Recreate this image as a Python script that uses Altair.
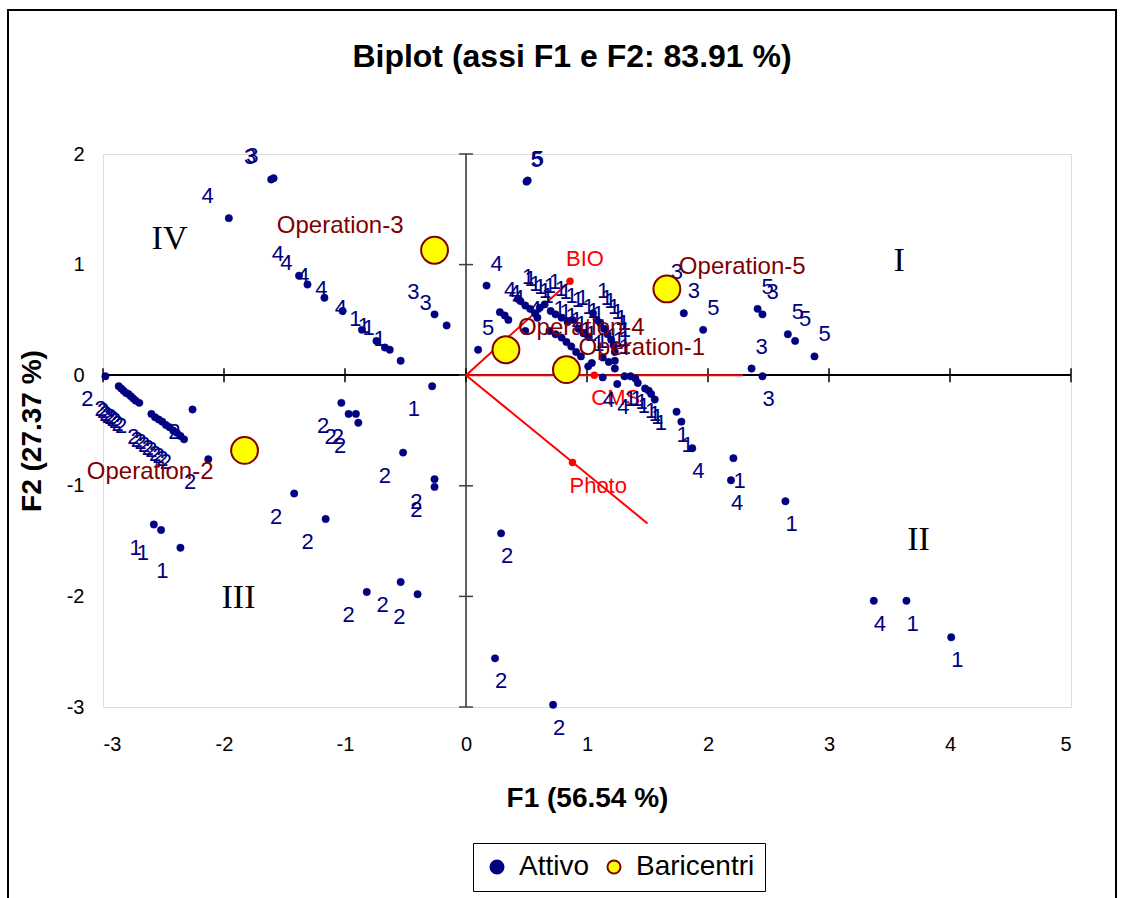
import altair as alt
import pandas as pd

# ---------------- data ----------------
att_f1 = [-1.61, -1.59, -1.96, -1.38, -1.31, -1.17, -1.02, -0.86, -0.74, -0.67, -0.63, -0.54, -0.26, -0.16,
          0.50, 0.51, 0.17, 0.10, 0.28, 0.32, 0.35,
          0.43, 0.45, 0.49, 0.53, 0.57, 0.61, 0.65, 0.70, 0.74, 0.79, 0.84, 0.88, 0.93, 0.97, 1.01,
          1.05, 1.08, 1.11, 1.14, 1.17, 1.20, 1.22, 1.23, 1.23, 1.23,
          0.49, 0.59, 0.69, 0.74, 0.79, 0.83, 0.87, 0.91, 0.95, 1.01, 1.04, 1.13, 1.18,
          1.66, 1.80, 1.96, 2.41, 2.45, 2.66, 2.72, 2.88, 2.36,
          2.45, 1.13, 1.25, 1.31, 1.36, 1.40, 1.42, 1.48, 1.51, 1.53, 1.56, 1.74, 1.78, 1.87,
          2.21, 2.19, 2.64, 3.37, 3.64, 4.01, 0.29, 0.24, 0.72,
          -2.98, -2.87, -2.85, -2.83, -2.81, -2.79, -2.77, -2.75, -2.73, -2.70,
          -2.60, -2.57, -2.54, -2.51, -2.48, -2.45, -2.42, -2.39, -2.36, -2.33,
          -2.26, -2.13, -2.58, -2.52, -2.36, -1.42, -1.16,
          -1.03, -0.97, -0.91, -0.89, -0.52, -0.28, -0.26, -0.26, -0.82, -0.54, -0.40]
att_f2 = [1.77, 1.78, 1.42, 0.90, 0.82, 0.70, 0.58, 0.41, 0.31, 0.25, 0.23, 0.13, 0.55, 0.45,
          1.75, 1.76, 0.81, 0.23, 0.57, 0.54, 0.50,
          0.69, 0.67, 0.63, 0.60, 0.56, 0.61, 0.64, 0.58, 0.55, 0.52, 0.48, 0.50, 0.42, 0.38, 0.35,
          0.56, 0.50, 0.47, 0.42, 0.37, 0.32, 0.27, 0.21, 0.13, 0.06,
          0.40, 0.52, 0.40, 0.37, 0.34, 0.30, 0.26, 0.21, 0.17, 0.08, 0.11, 0.16, 0.12,
          0.73, 0.56, 0.41, 0.60, 0.55, 0.37, 0.31, 0.17, 0.06,
          -0.01, -0.02, -0.08, -0.01, -0.01, -0.03, -0.07, -0.12, -0.14, -0.17, -0.22, -0.33, -0.42, -0.66,
          -0.75, -0.95, -1.14, -2.04, -2.04, -2.37, -1.43, -2.56, -2.98,
          -0.01, -0.10, -0.12, -0.14, -0.16, -0.17, -0.19, -0.21, -0.23, -0.25,
          -0.35, -0.38, -0.40, -0.42, -0.45, -0.47, -0.50, -0.52, -0.55, -0.58,
          -0.31, -0.76, -1.35, -1.40, -1.56, -1.07, -1.30,
          -0.25, -0.35, -0.35, -0.43, -0.70, -0.10, -0.94, -1.01, -1.96, -1.87, -1.98]
att_op = [3, 3, 4, 4, 4, 4, 4, 4, 1, 1, 1, 1, 3, 3,
          5, 5, 4, 5, 4, 4, 4,
          1, 1, 1, 1, 1, 1, 1, 1, 1, 1, 1, 1, 1, 1, 1,
          1, 1, 1, 1, 1, 1, 1, 1, 1, 1,
          4, 1, 1, 1, 1, 1, 1, 1, 1, 1, 1, 1, 1,
          3, 3, 5, 5, 3, 5, 5, 5, 3,
          3, 4, 4, 1, 1, 1, 1, 1, 1, 1, 1, 1, 1, 4,
          1, 4, 1, 4, 1, 1, 2, 2, 2,
          2, 2, 2, 2, 2, 2, 2, 2, 2, 2,
          2, 2, 2, 2, 2, 2, 2, 2, 2, 2,
          2, 2, 1, 1, 1, 2, 2,
          2, 2, 2, 2, 2, 1, 2, 2, 2, 2, 2]

bar_names = ["Operation-1", "Operation-2", "Operation-3", "Operation-4", "Operation-5"]
bar_f1 = [0.83, -1.83, -0.26, 0.33, 1.66]
bar_f2 = [0.05, -0.68, 1.13, 0.23, 0.78]

var_names = ["BIO", "CMS", "Photo"]
var_f1 = [0.86, 1.06, 0.88]
var_f2 = [0.85, 0.00, -0.79]
var_end_f1 = [0.86, 2.29, 1.50]
var_end_f2 = [0.85, 0.00, -1.34]

quad_names = ["I", "II", "III", "IV"]
quad_f1 = [3.58, 3.74, -1.88, -2.45]
quad_f2 = [1.03, -1.49, -2.01, 1.23]

x_ticks = [-3, -2, -1, 0, 1, 2, 3, 4, 5]
y_ticks = [-3, -2, -1, 0, 1, 2]

# ---------------- tables ----------------
att = pd.DataFrame({"f1": att_f1, "f2": att_f2, "op": [str(v) for v in att_op],
                    "series": ["Attivo"] * len(att_f1)})
bar = pd.DataFrame({"f1": bar_f1, "f2": bar_f2, "name": bar_names,
                    "series": ["Baricentri"] * len(bar_f1)})
var = pd.DataFrame({"f1": var_f1, "f2": var_f2, "name": var_names,
                    "e1": var_end_f1, "e2": var_end_f2,
                    "o1": [0.0] * len(var_f1), "o2": [0.0] * len(var_f1)})
quad = pd.DataFrame({"f1": quad_f1, "f2": quad_f2, "name": quad_names})
xt = pd.DataFrame({"f1": x_ticks})
yt = pd.DataFrame({"f2": y_ticks})

FONT = "Liberation Sans"
xs = alt.Scale(domain=[-3, 5], nice=False, zero=False)
ys = alt.Scale(domain=[-3, 2], nice=False, zero=False)
x_axis = alt.Axis(values=x_ticks, ticks=False, domain=False, grid=False, labelExpr="datum.value + ''",
                  labelFont=FONT, labelFontSize=20, labelColor="black", labelPadding=27,
                  title="F1 (56.54 %)", titleFont=FONT, titleFontSize=28, titleFontWeight="bold",
                  titleColor="black", titleY=91, titleBaseline="middle")
y_axis = alt.Axis(values=y_ticks, ticks=False, domain=False, grid=False, labelExpr="datum.value + ''",
                  labelFont=FONT, labelFontSize=20, labelColor="black", labelPadding=19,
                  title="F2 (27.37 %)", titleFont=FONT, titleFontSize=28, titleFontWeight="bold",
                  titleColor="black", titleX=-71, titleBaseline="middle", titleAngle=-90)


def X(field="f1"):
    return alt.X(field + ":Q", scale=xs, axis=x_axis)


def Y(field="f2"):
    return alt.Y(field + ":Q", scale=ys, axis=y_axis)


Q1 = "datum.f1 > 0 && datum.f2 >= 0"
Q2 = "datum.f1 > 0 && datum.f2 < 0"
Q3 = "datum.f1 <= 0 && datum.f2 < 0"
Q4 = "datum.f1 <= 0 && datum.f2 >= 0"

# zero axes
hline = alt.Chart(xt).mark_rule(color="black", strokeWidth=1.5).encode(y=alt.Y(datum=0, scale=ys, axis=y_axis))
vline = alt.Chart(xt).mark_rule(color="#606060", strokeWidth=1.5).encode(x=alt.X(datum=0, scale=xs, axis=x_axis))
xtick = alt.Chart(xt).mark_tick(orient="vertical", size=14, thickness=1.5, color="black", opacity=1).encode(
    x=X(), y=alt.Y(datum=0, scale=ys, axis=y_axis))
ytick = alt.Chart(yt).mark_tick(orient="horizontal", size=14, thickness=1.5, color="#404040", opacity=1).encode(
    y=Y(), x=alt.X(datum=0, scale=xs, axis=x_axis))

# variable vectors
vlines = alt.Chart(var).mark_rule(color="#FF0000", strokeWidth=2).encode(
    x=X("o1"), y=Y("o2"), x2="e1:Q", y2="e2:Q")
vpts = alt.Chart(var).mark_circle(color="#FF0000", size=55, opacity=1).encode(x=X(), y=Y())

legend = alt.Legend(title=None, orient="none", legendX=370, legendY=689, direction="horizontal",
                    strokeColor="black", padding=10, labelFont=FONT, labelFontSize=28,
                    labelColor="black", symbolType="circle", symbolSize=170, symbolStrokeWidth=2,
                    columnPadding=10, labelOffset=8)
fill_enc = alt.Fill("series:N", scale=alt.Scale(domain=["Attivo", "Baricentri"], range=["#000080", "#FFFF00"]),
                    legend=legend)
stroke_enc = alt.Stroke("series:N", scale=alt.Scale(domain=["Attivo", "Baricentri"], range=["#000080", "#800000"]),
                        legend=legend)

pts = alt.Chart(att).mark_circle(size=55, opacity=1, strokeWidth=0.5).encode(
    x=X(), y=Y(), fill=fill_enc, stroke=stroke_enc)
bars = alt.Chart(bar).mark_circle(size=720, opacity=1, strokeWidth=2).encode(
    x=X(), y=Y(), fill=fill_enc, stroke=stroke_enc)


def att_labels(expr, align, dx, dy):
    return alt.Chart(att).transform_filter(expr).mark_text(
        align=align, baseline="middle", dx=dx, dy=dy, font=FONT, fontSize=22, color="#000080"
    ).encode(x=X(), y=Y(), text="op:N")


def bar_labels(expr, align, dx, dy):
    return alt.Chart(bar).transform_filter(expr).mark_text(
        align=align, baseline="middle", dx=dx, dy=dy, font=FONT, fontSize=24, color="#800000"
    ).encode(x=X(), y=Y(), text="name:N")


vlabels_up = alt.Chart(var).transform_filter("datum.f2 > 0").mark_text(
    align="left", baseline="middle", dx=-4, dy=-22, font=FONT, fontSize=22, color="#FF0000"
).encode(x=X(), y=Y(), text="name:N")
vlabels_dn = alt.Chart(var).transform_filter("datum.f2 <= 0").mark_text(
    align="left", baseline="middle", dx=-3, dy=23, font=FONT, fontSize=22, color="#FF0000"
).encode(x=X(), y=Y(), text="name:N")

qlabels = alt.Chart(quad).mark_text(font="Liberation Serif", fontSize=34, color="black",
                                    baseline="middle", align="center").encode(x=X(), y=Y(), text="name:N")

frame = alt.Chart(xt).mark_rect(filled=False, stroke="black", strokeWidth=1.5).encode(
    x=alt.value(-95), x2=alt.value(1013), y=alt.value(-144), y2=alt.value(760))

chart = alt.layer(
    frame, hline, vline, xtick, ytick, vlines, vpts, qlabels,
    vlabels_up, vlabels_dn,
    pts,
    att_labels(Q1, "left", 4, -22), att_labels(Q2, "left", 0, 23),
    att_labels(Q3, "right", -12, 23), att_labels(Q4, "right", -15, -22),
    bars,
    bar_labels(Q1, "left", 12, -22), bar_labels(Q3, "right", -31, 22), bar_labels(Q4, "right", -31, -24),
).properties(
    width=968, height=553,
    autosize=alt.AutoSizeParams(type="none"),
    padding={"left": 103, "top": 154, "right": 52, "bottom": 191},
    title=alt.TitleParams(text="Biplot (assi F1 e F2: 83.91 %)", font=FONT, fontSize=32, fontWeight="bold",
                          color="black", anchor="middle", dx=-15, offset=-90, baseline="alphabetic",
                          frame="group"),
).configure_view(stroke="#808080", strokeWidth=1.5).configure(background="white")

chart.save("out.html", embed_options={"renderer": "svg", "actions": False})
